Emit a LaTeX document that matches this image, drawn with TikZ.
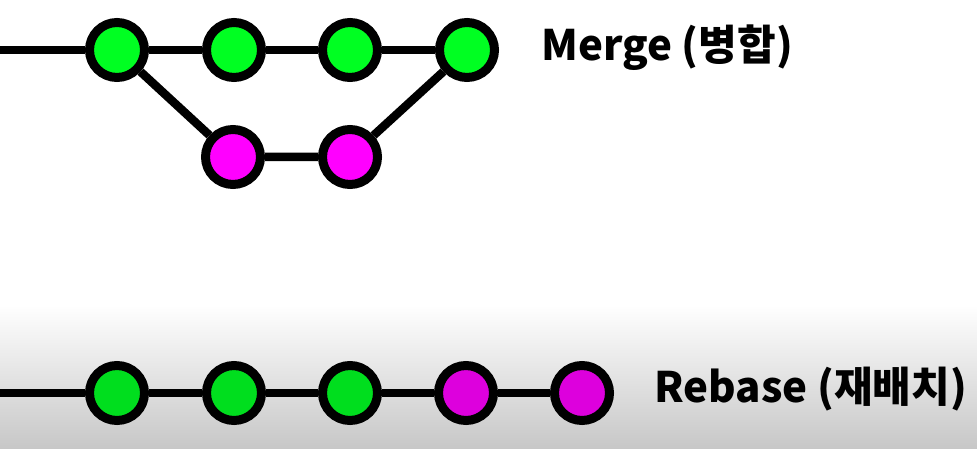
\documentclass[tikz,border=0pt]{standalone}
\usepackage{fontspec}
\newfontfamily\krfont{Noto Sans CJK KR}
\definecolor{gitgreen}{RGB}{0,255,34}
\definecolor{gitpink}{RGB}{255,0,255}
\definecolor{gitgreendim}{RGB}{0,222,30}
\definecolor{gitpinkdim}{RGB}{221,0,221}
\tikzset{
  commit/.style={circle, draw=black, line width=9pt, minimum size=55pt, inner sep=0pt},
  branch/.style={line width=8.5pt, draw=black},
  label/.style={anchor=base west, font=\krfont\bfseries\fontsize{42}{50}\selectfont}
}

\begin{document}
\begin{tikzpicture}[x=1pt, y=-1pt]
\useasboundingbox (0,0) rectangle (977,449);
\fill[white] (0,0) rectangle (977,449);
\shade[top color=white, bottom color=black!22] (0,305) rectangle (977,449);

% merge
\coordinate (m0) at (0,50);
\node[commit, fill=gitgreen] (m1) at (117,50) {};
\node[commit, fill=gitgreen] (m2) at (234,50) {};
\node[commit, fill=gitgreen] (m3) at (350,50) {};
\node[commit, fill=gitgreen] (m4) at (467,50) {};
\node[commit, fill=gitpink] (f1) at (233,157) {};
\node[commit, fill=gitpink] (f2) at (350,157) {};
\draw[branch] (m0) -- (m1) -- (m2) -- (m3) -- (m4);
\draw[branch] (m1) -- (f1) -- (f2) -- (m4);
\node[label] (mlabel) at (538,61) {Merge (병합)};

% rebase
\coordinate (r0) at (0,393);
\node[commit, fill=gitgreendim] (r1) at (117,393) {};
\node[commit, fill=gitgreendim] (r2) at (234,393) {};
\node[commit, fill=gitgreendim] (r3) at (350,393) {};
\node[commit, fill=gitpinkdim] (r4) at (466,393) {};
\node[commit, fill=gitpinkdim] (r5) at (582,393) {};
\draw[branch] (r0) -- (r1) -- (r2) -- (r3) -- (r4) -- (r5);
\node[label] (rlabel) at (651,402) {Rebase (재배치)};

\end{tikzpicture}
\end{document}
